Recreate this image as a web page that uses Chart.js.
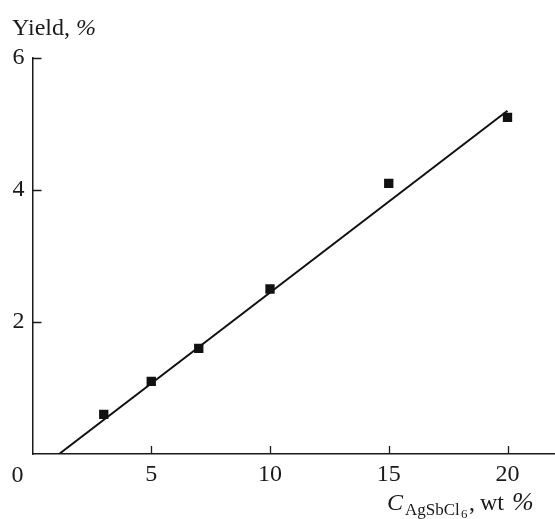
<!DOCTYPE html>
<html>
<head>
<meta charset="utf-8">
<script src="https://cdn.jsdelivr.net/npm/chart.js@4"></script>
<style>
  html, body { margin: 0; padding: 0; background: #fff; }
  #wrap { width: 555px; height: 519px; }
</style>
</head>
<body>
<div id="wrap"><canvas id="chart" width="555" height="519"></canvas></div>
<script>
// measured yield vs. catalyst content
var conc = [3, 5, 7, 10, 15, 20];
var yieldPct = [0.6, 1.1, 1.6, 2.5, 4.1, 5.1];

// straight-line fit, end points
var fitX = [1.12, 20];
var fitY = [0, 5.2];

var xTicks = [5, 10, 15, 20];
var yTicks = [2, 4, 6];

var serif = "'Liberation Serif', 'Times New Roman', serif";
var ink = '#1a1a1a';

function toPoints(xs, ys) {
    var out = [];
    for (var i = 0; i < xs.length; i++) out.push({x: xs[i], y: ys[i]});
    return out;
}

// inward tick marks, axis titles and the corner "0"
var decor = {
    id: 'decor',
    afterDraw: function(chart) {
        var ctx = chart.ctx;
        var xs = chart.scales.x, ys = chart.scales.y;
        var x0 = xs.getPixelForValue(0), y0 = ys.getPixelForValue(0);
        ctx.save();
        ctx.strokeStyle = ink;
        ctx.lineWidth = 1.3;
        ctx.beginPath();
        xTicks.forEach(function(v) {
            var px = Math.round(xs.getPixelForValue(v)) + 0.5;
            ctx.moveTo(px, y0);
            ctx.lineTo(px, y0 - 8);
        });
        yTicks.forEach(function(v) {
            var py = Math.round(ys.getPixelForValue(v)) + 0.5;
            ctx.moveTo(x0, py);
            ctx.lineTo(x0 + 9, py);
        });
        ctx.stroke();

        ctx.fillStyle = ink;
        ctx.textBaseline = 'alphabetic';

        // origin label
        ctx.font = '24px ' + serif;
        ctx.textAlign = 'center';
        ctx.fillText('0', 17.5, y0 + 28);

        // y title
        ctx.textAlign = 'left';
        ctx.font = '24px ' + serif;
        ctx.fillText('Yield, ', 12, 35);
        var w = ctx.measureText('Yield, ').width;
        ctx.font = 'italic 24px ' + serif;
        ctx.fillText('%', 12 + w, 35);

        // x title: C with subscript AgSbCl6
        var parts = [
            {t: 'C', f: 'italic 24px ', x: 387, y: 510},
            {t: 'AgSbCl', f: '17px ', x: 405, y: 515},
            {t: '6', f: '13px ', x: 461, y: 518},
            {t: ',', f: '24px ', x: 469, y: 510},
            {t: 'wt', f: '24px ', x: 480, y: 510},
            {t: '%', f: 'italic 26px ', x: 512, y: 510}
        ];
        parts.forEach(function(p) {
            ctx.font = p.f + serif;
            ctx.fillText(p.t, p.x, p.y);
        });
        ctx.restore();
    }
};

new Chart(document.getElementById('chart'), {
    type: 'scatter',
    data: {
        datasets: [
            {
                type: 'line',
                data: toPoints(fitX, fitY),
                borderColor: '#111',
                borderWidth: 2,
                pointRadius: 0,
                fill: false
            },
            {
                data: toPoints(conc, yieldPct),
                pointStyle: 'rect',
                pointRadius: 6.6,
                pointHoverRadius: 6.6,
                backgroundColor: '#111',
                borderColor: '#111',
                borderWidth: 0
            }
        ]
    },
    options: {
        responsive: false,
        animation: false,
        layout: { autoPadding: false, padding: { left: 12.5, top: 58, right: 0, bottom: 30 } },
        plugins: {
            legend: { display: false },
            tooltip: { enabled: false },
            title: { display: false }
        },
        scales: {
            x: {
                type: 'linear',
                min: 0,
                max: 22,
                grid: { drawOnChartArea: false, drawTicks: false },
                border: { display: true, color: ink, width: 1.5 },
                ticks: {
                    stepSize: 5,
                    includeBounds: false,
                    padding: 6,
                    color: ink,
                    font: { family: serif, size: 24 },
                    maxRotation: 0,
                    callback: function(v) { return v === 0 ? '' : v; }
                },
                afterFit: function(s) {
                    s.height = 35;
                    s.paddingLeft = 0;
                    s.paddingRight = 0;
                }
            },
            y: {
                min: 0,
                max: 6,
                grid: { drawOnChartArea: false, drawTicks: false },
                border: { display: true, color: ink, width: 1.5 },
                ticks: {
                    stepSize: 2,
                    padding: 8,
                    color: ink,
                    font: { family: serif, size: 24 },
                    callback: function(v) { return v === 0 ? '' : v; }
                },
                afterFit: function(s) {
                    s.width = 20;
                    s.paddingTop = 0;
                    s.paddingBottom = 0;
                }
            }
        }
    },
    plugins: [decor]
});
</script>
</body>
</html>
